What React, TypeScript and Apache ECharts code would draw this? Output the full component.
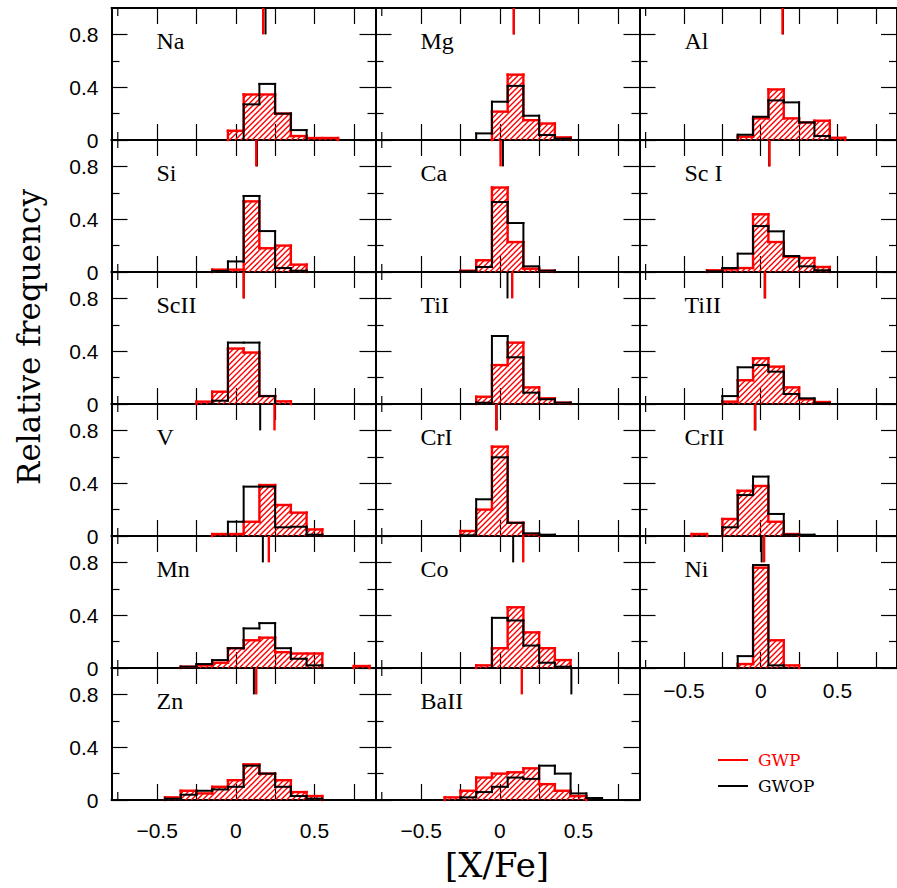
import React, { useEffect, useRef } from 'react';
import * as echarts from 'echarts';

// ---------- DATA ----------
const binCenters = [-0.4, -0.3, -0.2, -0.1, 0, 0.1, 0.2, 0.3, 0.4, 0.5, 0.6, 0.7, 0.8];
const binWidth = 0.1;

const panelNames = ['Na', 'Mg', 'Al', 'Si', 'Ca', 'Sc I', 'ScII', 'TiI', 'TiII', 'V', 'CrI', 'CrII', 'Mn', 'Co', 'Ni', 'Zn', 'BaII'];

// GWP (red, hatched) relative frequencies per bin
const gwpNa = [0, 0, 0, 0, 0.07, 0.345, 0.345, 0.2, 0.03, 0.015, 0.015, 0, 0];
const gwpMg = [0, 0, 0, 0, 0.215, 0.495, 0.15, 0.125, 0.02, 0, 0, 0, 0];
const gwpAl = [0, 0, 0, 0.025, 0.164, 0.383, 0.164, 0.133, 0.146, 0.017, 0, 0, 0];
const gwpSi = [0, 0, 0, 0.018, 0.018, 0.535, 0.18, 0.2, 0.056, 0, 0, 0, 0];
const gwpCa = [0, 0, 0.01, 0.089, 0.64, 0.227, 0.025, 0.01, 0, 0, 0, 0, 0];
const gwpScI = [0, 0.013, 0.02, 0.03, 0.437, 0.227, 0.114, 0.106, 0.038, 0, 0, 0, 0];
const gwpScII = [0, 0, 0.018, 0.093, 0.42, 0.39, 0.06, 0.02, 0, 0, 0, 0, 0];
const gwpTiI = [0, 0, 0, 0.055, 0.295, 0.465, 0.126, 0.043, 0.01, 0, 0, 0, 0];
const gwpTiII = [0, 0, 0.018, 0.18, 0.346, 0.283, 0.126, 0.035, 0.015, 0, 0, 0, 0];
const gwpV = [0, 0, 0, 0.015, 0.015, 0.108, 0.386, 0.235, 0.177, 0.05, 0, 0, 0];
const gwpCrI = [0, 0, 0.038, 0.2, 0.677, 0.1, 0.015, 0, 0, 0, 0, 0, 0];
const gwpCrII = [0.015, 0, 0.129, 0.343, 0.379, 0.108, 0.015, 0, 0, 0, 0, 0, 0];
const gwpMn = [0, 0.01, 0.02, 0.04, 0.15, 0.21, 0.23, 0.12, 0.11, 0.11, 0, 0, 0.015];
const gwpCo = [0, 0, 0, 0.02, 0.15, 0.46, 0.27, 0.15, 0.06, 0, 0, 0, 0];
const gwpNi = [0, 0, 0, 0.03, 0.76, 0.21, 0.02, 0, 0, 0, 0, 0, 0];
const gwpZn = [0.02, 0.07, 0.05, 0.1, 0.15, 0.27, 0.2, 0.15, 0.06, 0.03, 0, 0, 0];
const gwpBaII = [0, 0.02, 0.07, 0.17, 0.2, 0.21, 0.24, 0.12, 0.07, 0.03, 0, 0, 0];

// GWOP (black outline) relative frequencies per bin
const gwopNa = [0, 0, 0, 0, 0, 0.27, 0.425, 0.2, 0.075, 0, 0, 0, 0];
const gwopMg = [0, 0, 0, 0.05, 0.29, 0.41, 0.184, 0.038, 0.01, 0, 0, 0, 0];
const gwopAl = [0, 0, 0, 0.04, 0.176, 0.3, 0.285, 0.133, 0.03, 0, 0, 0, 0];
const gwopSi = [0, 0, 0, 0.008, 0.08, 0.576, 0.31, 0.03, 0.01, 0, 0, 0, 0];
const gwopCa = [0, 0, 0.005, 0.038, 0.53, 0.371, 0.043, 0.01, 0, 0, 0, 0, 0];
const gwopScI = [0, 0.005, 0.03, 0.139, 0.348, 0.308, 0.121, 0.043, 0.013, 0, 0, 0, 0];
const gwopScII = [0, 0, 0, 0.025, 0.465, 0.465, 0.06, 0, 0, 0, 0, 0, 0];
const gwopTiI = [0, 0, 0, 0.01, 0.515, 0.354, 0.086, 0.036, 0.01, 0, 0, 0, 0];
const gwopTiII = [0, 0, 0.06, 0.278, 0.295, 0.245, 0.076, 0.043, 0.005, 0, 0, 0, 0];
const gwopV = [0, 0, 0, 0, 0.108, 0.374, 0.374, 0.066, 0.07, 0.01, 0, 0, 0];
const gwopCrI = [0, 0, 0.005, 0.278, 0.596, 0.1, 0.02, 0.01, 0, 0, 0, 0, 0];
const gwopCrII = [0, 0, 0.066, 0.31, 0.45, 0.167, 0.01, 0.01, 0, 0, 0, 0, 0];
const gwopMn = [0, 0.01, 0.03, 0.06, 0.15, 0.3, 0.34, 0.15, 0.07, 0.02, 0, 0, 0];
const gwopCo = [0, 0, 0, 0, 0.38, 0.36, 0.17, 0.04, 0.01, 0, 0, 0, 0];
const gwopNi = [0, 0, 0, 0.09, 0.78, 0.02, 0, 0, 0, 0, 0, 0, 0];
const gwopZn = [0.01, 0.04, 0.07, 0.08, 0.1, 0.26, 0.2, 0.1, 0.03, 0.01, 0, 0, 0];
const gwopBaII = [0, 0, 0.02, 0.06, 0.1, 0.17, 0.16, 0.26, 0.2, 0.05, 0.015, 0, 0];

// mean [X/Fe] markers
const gwpMean = [0.174, 0.089, 0.142, 0.13, 0.005, 0.057, 0.051, 0.079, 0.028, 0.246, -0.023, -0.038, 0.21, 0.149, 0.022, 0.13, 0.14];
const gwopMean = [0.189, 0.089, 0.145, 0.135, 0.02, 0.055, 0.05, 0.049, 0.026, 0.155, -0.02, -0.035, 0.172, 0.085, 0.006, 0.115, 0.455];

const xTicks = [-0.5, -0.25, 0, 0.25, 0.5, 0.75];
const xShortTicks = [-0.75];
const xTickLabels = [-0.5, 0, 0.5];
const yTicks = [0, 0.4, 0.8];

const gwpHists = [gwpNa, gwpMg, gwpAl, gwpSi, gwpCa, gwpScI, gwpScII, gwpTiI, gwpTiII, gwpV, gwpCrI, gwpCrII, gwpMn, gwpCo, gwpNi, gwpZn, gwpBaII];
const gwopHists = [gwopNa, gwopMg, gwopAl, gwopSi, gwopCa, gwopScI, gwopScII, gwopTiI, gwopTiII, gwopV, gwopCrI, gwopCrII, gwopMn, gwopCo, gwopNi, gwopZn, gwopBaII];

// ---------- LAYOUT ----------
const PANEL_LEFT = 111.5;
const PANEL_TOP = 8;
const PANEL_W = 264;
const PANEL_H = 132;
const X_MIN = -0.79;
const X_MAX = 0.888;
const Y_MIN = 0;
const Y_MAX = 1;
const RED = '#ff0000';
const BLACK = '#000000';
const SERIF = '"DejaVu Serif", serif';
const TIMES = '"Liberation Serif", "Times New Roman", serif';
const SANS = '"Liberation Sans", Arial, sans-serif';

function fmtX(v: number) {
  if (Math.abs(v) < 1e-9) return '0';
  return v < 0 ? '\u2212' + String(Math.abs(v)) : String(v);
}
function fmtY(v: number) {
  if (Math.abs(v) < 1e-9) return '0';
  return v.toFixed(1);
}

function histData(vals: number[]) {
  return binCenters.map((c, i) => [c, vals[i], i === 0 ? 0 : vals[i - 1], i === binCenters.length - 1 ? 1 : 0]);
}

function makeHistRender(hatch: boolean, color: string, width: number) {
  return (params: any, api: any) => {
    const c = api.value(0);
    const v = api.value(1);
    const prev = api.value(2);
    const isLast = api.value(3);
    const half = binWidth / 2;
    const tl = api.coord([c - half, v]);
    const tr = api.coord([c + half, v]);
    const bl = api.coord([c - half, 0]);
    const pp = api.coord([c - half, prev]);
    const children: any[] = [];
    const ls = { stroke: color, lineWidth: width, lineCap: 'square' };
    if (hatch && v > 0) {
      const s = 5.6;
      const x0 = tl[0], x1 = tr[0], yT = tl[1], yB = bl[1];
      const kStart = Math.ceil((x0 + yT) / s);
      const kEnd = Math.floor((x1 + yB) / s);
      for (let k = kStart; k <= kEnd; k++) {
        const cc = k * s;
        const xa = Math.max(x0, cc - yB);
        const xb = Math.min(x1, cc - yT);
        if (xb - xa > 0.3) {
          children.push({
            type: 'line',
            shape: { x1: xa, y1: cc - xa, x2: xb, y2: cc - xb },
            style: { stroke: color, lineWidth: 1.4 },
          });
        }
      }
    }
    if (v > 0) {
      children.push({ type: 'line', shape: { x1: tl[0], y1: tl[1], x2: tr[0], y2: tr[1] }, style: ls });
    }
    if (prev !== v) {
      children.push({ type: 'line', shape: { x1: tl[0], y1: pp[1], x2: tl[0], y2: tl[1] }, style: ls });
    }
    if (isLast && v > 0) {
      children.push({ type: 'line', shape: { x1: tr[0], y1: tr[1], x2: tr[0], y2: bl[1] }, style: ls });
    }
    return { type: 'group', children };
  };
}

function makeMeanRender(color: string, width: number) {
  return (params: any, api: any) => {
    const m = api.value(0);
    const p1 = api.coord([m, Y_MAX]);
    const p2 = api.coord([m, 0.8]);
    return { type: 'line', shape: { x1: p1[0], y1: p1[1], x2: p2[0], y2: p2[1] }, style: { stroke: color, lineWidth: width } };
  };
}

function shortTickRender(params: any, api: any) {
  const x = api.value(0);
  const pb = api.coord([x, Y_MIN]);
  const pt = api.coord([x, Y_MAX]);
  return {
    type: 'group',
    children: [
      { type: 'line', shape: { x1: pb[0], y1: pb[1], x2: pb[0], y2: pb[1] - 8 }, style: { stroke: BLACK, lineWidth: 1.2 } },
      { type: 'line', shape: { x1: pt[0], y1: pt[1], x2: pt[0], y2: pt[1] + 8 }, style: { stroke: BLACK, lineWidth: 1.2 } },
    ],
  };
}

function buildOption() {
  const grid: any[] = [];
  const xAxis: any[] = [];
  const yAxis: any[] = [];
  const series: any[] = [];
  const graphic: any[] = [];

  panelNames.forEach((name, i) => {
    const row = Math.floor(i / 3);
    const col = i % 3;
    const left = PANEL_LEFT + col * PANEL_W;
    const top = PANEL_TOP + row * PANEL_H;
    grid.push({ left, top, width: PANEL_W, height: PANEL_H, containLabel: false });

    const showXLabels = i >= 14;
    const xMargin = i === 14 ? 12 : 20;
    const lineStyle = { color: BLACK, width: 2 };
    const tickStyle = { color: BLACK, width: 1.2 };

    ['bottom', 'top'].forEach((pos) => {
      xAxis.push({
        gridIndex: i,
        type: 'value',
        position: pos,
        min: X_MIN,
        max: X_MAX,
        axisLine: { show: true, onZero: false, lineStyle },
        axisTick: { show: true, inside: true, length: 16, customValues: xTicks, lineStyle: tickStyle },
        axisLabel: {
          show: pos === 'bottom' && showXLabels,
          customValues: xTickLabels,
          formatter: fmtX,
          margin: xMargin,
          fontSize: 21,
          fontFamily: SANS,
          color: BLACK,
        },
        splitLine: { show: false },
      });
    });
    ['left', 'right'].forEach((pos) => {
      yAxis.push({
        gridIndex: i,
        type: 'value',
        position: pos,
        min: Y_MIN,
        max: Y_MAX,
        interval: 0.4,
        axisLine: { show: true, onZero: false, lineStyle },
        axisTick: { show: true, inside: true, length: 16, customValues: yTicks, lineStyle: tickStyle },
        minorTick: { show: true, splitNumber: 2, length: 8, lineStyle: tickStyle },
        axisLabel: {
          show: pos === 'left' && col === 0,
          customValues: yTicks,
          formatter: fmtY,
          margin: 13,
          fontSize: 21,
          fontFamily: SANS,
          color: BLACK,
        },
        splitLine: { show: false },
        minorSplitLine: { show: false },
      });
    });

    const xi = 2 * i;
    const yi = 2 * i;
    series.push({
      type: 'custom',
      name: 'GWP',
      xAxisIndex: xi,
      yAxisIndex: yi,
      silent: true,
      z: 2,
      itemStyle: { color: RED },
      renderItem: makeHistRender(true, RED, 2.4),
      data: histData(gwpHists[i]),
    });
    series.push({
      type: 'custom',
      name: 'GWOP',
      xAxisIndex: xi,
      yAxisIndex: yi,
      silent: true,
      z: 3,
      itemStyle: { color: BLACK },
      renderItem: makeHistRender(false, BLACK, 2),
      data: histData(gwopHists[i]),
    });
    series.push({
      type: 'custom',
      name: 'GWOP mean',
      xAxisIndex: xi,
      yAxisIndex: yi,
      silent: true,
      z: 4,
      renderItem: makeMeanRender(BLACK, 2),
      data: [[gwopMean[i], Y_MAX]],
    });
    series.push({
      type: 'custom',
      name: 'GWP mean',
      xAxisIndex: xi,
      yAxisIndex: yi,
      silent: true,
      z: 5,
      renderItem: makeMeanRender(RED, 2.4),
      data: [[gwpMean[i], Y_MAX]],
    });
    series.push({
      type: 'custom',
      name: 'ticks',
      xAxisIndex: xi,
      yAxisIndex: yi,
      silent: true,
      z: 1,
      renderItem: shortTickRender,
      data: xShortTicks.map((t) => [t, 0]),
    });

    graphic.push({
      type: 'text',
      x: left + 45,
      y: top + 33,
      style: {
        text: name,
        fill: BLACK,
        fontSize: 24,
        fontFamily: TIMES,
        align: 'left',
        verticalAlign: 'middle',
      },
    });
  });

  // axis titles
  graphic.push({
    type: 'text',
    x: 29,
    y: 337,
    rotation: Math.PI / 2,
    style: {
      text: 'Relative frequency',
      fill: BLACK,
      fontSize: 31,
      fontFamily: SERIF,
      align: 'center',
      verticalAlign: 'middle',
    },
  });
  graphic.push({
    type: 'text',
    x: 497,
    y: 865,
    style: {
      text: '[X/Fe]',
      fill: BLACK,
      fontSize: 34,
      fontFamily: SERIF,
      align: 'center',
      verticalAlign: 'middle',
    },
  });

  // legend
  graphic.push({ type: 'line', shape: { x1: 718, y1: 760, x2: 748, y2: 760 }, style: { stroke: RED, lineWidth: 2 } });
  graphic.push({ type: 'line', shape: { x1: 718, y1: 786, x2: 748, y2: 786 }, style: { stroke: BLACK, lineWidth: 2 } });
  graphic.push({
    type: 'text', x: 758, y: 760,
    style: { text: 'GWP', fill: RED, fontSize: 17, fontFamily: SERIF, align: 'left', verticalAlign: 'middle' },
  });
  graphic.push({
    type: 'text', x: 758, y: 786,
    style: { text: 'GWOP', fill: BLACK, fontSize: 17, fontFamily: SERIF, align: 'left', verticalAlign: 'middle' },
  });

  return {
    animation: false,
    backgroundColor: '#ffffff',
    grid,
    xAxis,
    yAxis,
    series,
    graphic,
  };
}

export default function App() {
  const ref = useRef<HTMLDivElement | null>(null);
  useEffect(() => {
    if (!ref.current) return;
    const chart = echarts.init(ref.current, undefined, { renderer: 'svg' });
    chart.setOption(buildOption() as any);
    return () => {
      chart.dispose();
    };
  }, []);
  return (
    <div
      ref={ref}
      style={{ position: 'absolute', left: 0, top: 0, width: 897, height: 888, background: '#fff' }}
    />
  );
}
